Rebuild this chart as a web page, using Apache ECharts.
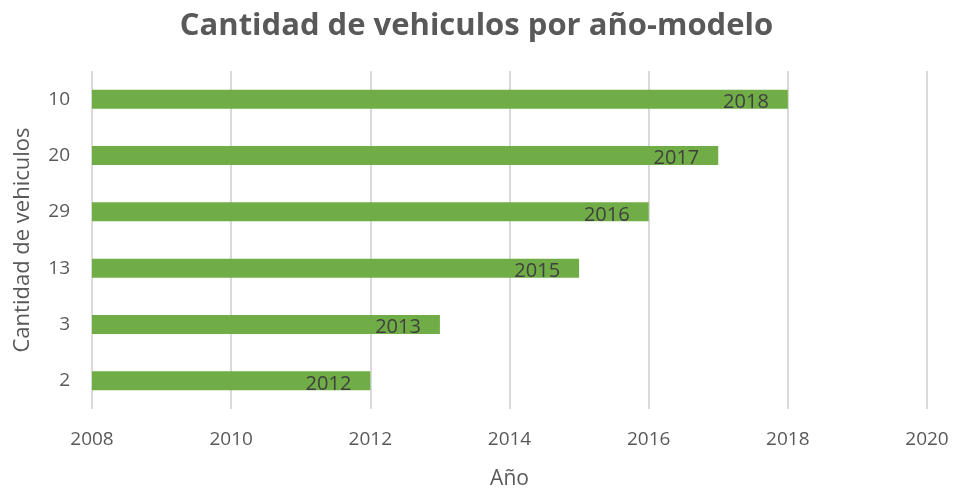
<!DOCTYPE html>
<html><head><meta charset="utf-8">
<script src="https://cdn.jsdelivr.net/npm/echarts@6/dist/echarts.min.js"></script>
<style>html,body{margin:0;padding:0;background:#fff}#c{width:953px;height:490px}</style>
</head><body><div id="c"></div>
<script>
const categories = ['2', '3', '13', '29', '20', '10'];
const values = [2012, 2013, 2015, 2016, 2017, 2018];
const xTicks = { min: 2008, max: 2020, interval: 2 };

const chart = echarts.init(document.getElementById('c'));
chart.setOption({
  animation: false,
  title: {
    text: 'Cantidad de vehiculos por año-modelo',
    left: 'center', top: 6,
    textStyle: { fontFamily: 'Open Sans', fontWeight: 'bold', fontSize: 31, color: '#595959' }
  },
  grid: { left: 92, right: 26, top: 71, bottom: 81, containLabel: false, outerBoundsMode: 'none' },
  xAxis: {
    type: 'value', min: xTicks.min, max: xTicks.max, interval: xTicks.interval,
    name: 'Año', nameLocation: 'middle', nameGap: 60,
    nameTextStyle: { fontFamily: 'Open Sans', fontSize: 21, color: '#595959' },
    axisLine: { show: false }, axisTick: { show: false },
    axisLabel: { fontFamily: 'Open Sans', fontSize: 19, color: '#595959', margin: 21,
      formatter: v => String(v) },
    splitLine: { lineStyle: { color: '#d9d9d9', width: 2 } }
  },
  yAxis: {
    type: 'category', data: categories,
    name: 'Cantidad de vehiculos', nameLocation: 'middle', nameGap: 58, nameRotate: 90,
    nameTextStyle: { fontFamily: 'Open Sans', fontSize: 22, color: '#595959' },
    axisLine: { show: false }, axisTick: { show: false },
    axisLabel: { fontFamily: 'Open Sans', fontSize: 19, color: '#595959', margin: 22 }
  },
  series: [{
    type: 'bar', data: values, barWidth: 19,
    itemStyle: { color: '#70ad47' },
    label: {
      show: true, position: 'insideRight', offset: [-14, 3],
      fontFamily: 'Open Sans', fontSize: 20, color: '#404040',
      formatter: p => String(p.value)
    }
  }]
});
</script></body></html>
